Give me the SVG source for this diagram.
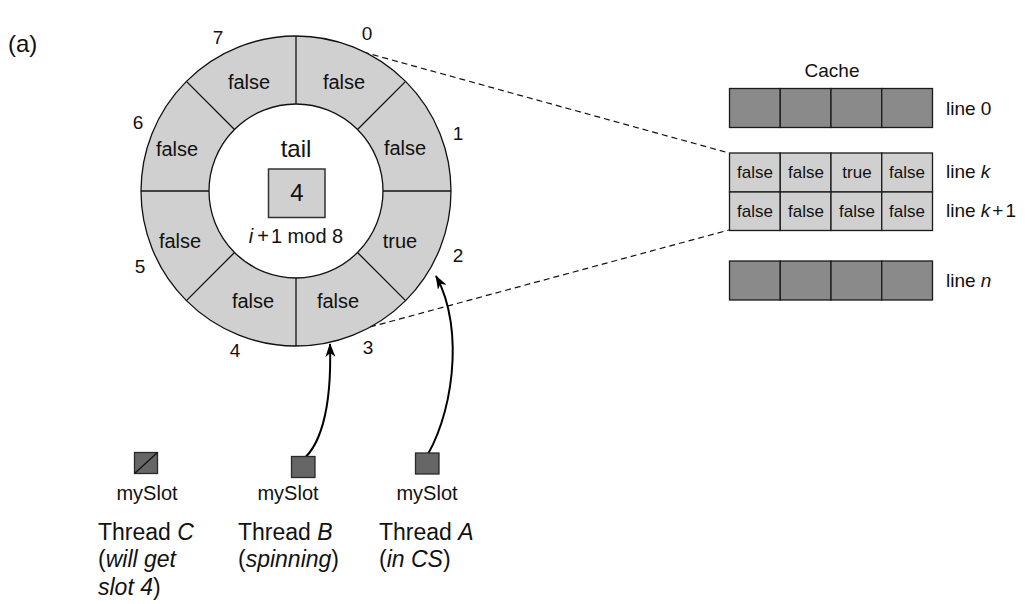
<svg xmlns="http://www.w3.org/2000/svg" width="1031" height="604" viewBox="0 0 1031 604">
<style>
text{font-family:"Liberation Sans",Arial,sans-serif;fill:#111}
.ring{font-size:20px;text-anchor:middle}
.num{font-size:19px;text-anchor:middle}
.cell{font-size:17px;text-anchor:middle}
.lbl{font-size:19px}
.slot{font-size:20px;text-anchor:middle}
.thr{font-size:23px}
.it{font-style:italic}
.div{stroke:#111;stroke-width:1.3}
.dark{fill:#8a8a8a;stroke:#1a1a1a;stroke-width:1.3}
.light{fill:#d0d0d0;stroke:#1a1a1a;stroke-width:1.3}
.tbox{fill:#666;stroke:#2a2a2a;stroke-width:1.3}
.dash{stroke:#111;stroke-width:1.2;stroke-dasharray:6 4;fill:none}
.arr{stroke:#000;stroke-width:2;fill:none;marker-end:url(#ah)}
</style>
<defs>
<marker id="ah" viewBox="0 0 14 10" refX="13" refY="5" markerWidth="14" markerHeight="10" markerUnits="userSpaceOnUse" orient="auto">
<path d="M0,0 L14,5 L0,10 L4,5 Z" fill="#000"/>
</marker>
</defs>
<rect width="1031" height="604" fill="#fff"/>
<text x="8" y="52" style="font-size:24px">(a)</text>

<g id="connectors">
<line class="dash" x1="363" y1="52" x2="729" y2="153"/>
<line class="dash" x1="370" y1="327" x2="729" y2="230"/>
<path class="arr" d="M298,463 C320,450 332,410 330,344"/>
<path class="arr" d="M423,462 C452,420 466,330 436,276"/>
</g>

<g id="ring">
<circle cx="296" cy="191" r="155" fill="#d0d0d0" stroke="#111" stroke-width="1.3"/>
<circle cx="296" cy="191" r="87" fill="#fff" stroke="#111" stroke-width="1.3"/>
<line class="div" x1="296" y1="36" x2="296" y2="104"/>
<line class="div" x1="296" y1="278" x2="296" y2="346"/>
<line class="div" x1="141" y1="191" x2="209" y2="191"/>
<line class="div" x1="383" y1="191" x2="451" y2="191"/>
<line class="div" x1="186.4" y1="81.4" x2="234.5" y2="129.5"/>
<line class="div" x1="405.6" y1="81.4" x2="357.5" y2="129.5"/>
<line class="div" x1="186.4" y1="300.6" x2="234.5" y2="252.5"/>
<line class="div" x1="405.6" y1="300.6" x2="357.5" y2="252.5"/>
<text class="ring" x="249" y="89">false</text>
<text class="ring" x="344" y="89">false</text>
<text class="ring" x="405" y="155">false</text>
<text class="ring" x="400" y="248">true</text>
<text class="ring" x="338" y="308">false</text>
<text class="ring" x="253" y="308">false</text>
<text class="ring" x="180" y="248">false</text>
<text class="ring" x="177" y="156">false</text>
<text class="num" x="367" y="40">0</text>
<text class="num" x="458" y="140">1</text>
<text class="num" x="458" y="262">2</text>
<text class="num" x="368" y="354">3</text>
<text class="num" x="235" y="357">4</text>
<text class="num" x="140" y="273">5</text>
<text class="num" x="138" y="129">6</text>
<text class="num" x="218" y="44">7</text>
</g>

<g id="tail">
<text x="296" y="157" style="font-size:24px;text-anchor:middle">tail</text>
<rect x="268.5" y="169" width="56.5" height="48.5" fill="#d0d0d0" stroke="#333" stroke-width="1.5"/>
<text x="297" y="201" style="font-size:24px;text-anchor:middle">4</text>
<text x="296" y="243" style="font-size:20px;text-anchor:middle"><tspan class="it">i</tspan><tspan dx="4">+</tspan><tspan dx="2">1 mod 8</tspan></text>
</g>

<g id="cache">
<text x="832" y="77" style="font-size:19px;text-anchor:middle">Cache</text>
<g id="line0">
<rect class="dark" x="729.5" y="88.5" width="50.75" height="39"/>
<rect class="dark" x="780.25" y="88.5" width="50.75" height="39"/>
<rect class="dark" x="831" y="88.5" width="50.75" height="39"/>
<rect class="dark" x="881.75" y="88.5" width="50.75" height="39"/>
<text class="lbl" x="946" y="115">line 0</text>
</g>
<g id="linek">
<rect class="light" x="729.5" y="153" width="50.75" height="39"/>
<rect class="light" x="780.25" y="153" width="50.75" height="39"/>
<rect class="light" x="831" y="153" width="50.75" height="39"/>
<rect class="light" x="881.75" y="153" width="50.75" height="39"/>
<text class="cell" x="755" y="178">false</text>
<text class="cell" x="806" y="178">false</text>
<text class="cell" x="857" y="178">true</text>
<text class="cell" x="907" y="178">false</text>
<text class="lbl" x="946" y="178">line <tspan class="it">k</tspan></text>
</g>
<g id="linek1">
<rect class="light" x="729.5" y="192" width="50.75" height="38.5"/>
<rect class="light" x="780.25" y="192" width="50.75" height="38.5"/>
<rect class="light" x="831" y="192" width="50.75" height="38.5"/>
<rect class="light" x="881.75" y="192" width="50.75" height="38.5"/>
<text class="cell" x="755" y="217">false</text>
<text class="cell" x="806" y="217">false</text>
<text class="cell" x="857" y="217">false</text>
<text class="cell" x="907" y="217">false</text>
<text class="lbl" x="946" y="217">line <tspan class="it">k</tspan><tspan dx="2">+</tspan><tspan dx="2">1</tspan></text>
</g>
<g id="linen">
<rect class="dark" x="729.5" y="261" width="50.75" height="39"/>
<rect class="dark" x="780.25" y="261" width="50.75" height="39"/>
<rect class="dark" x="831" y="261" width="50.75" height="39"/>
<rect class="dark" x="881.75" y="261" width="50.75" height="39"/>
<text class="lbl" x="946" y="287">line <tspan class="it">n</tspan></text>
</g>
</g>

<g id="threadC">
<rect class="tbox" x="134.5" y="452.5" width="23" height="21"/>
<line x1="134.5" y1="473.5" x2="157.5" y2="452.5" stroke="#111" stroke-width="1.3"/>
<text class="slot" x="147" y="500">mySlot</text>
<text class="thr" x="98" y="540">Thread <tspan class="it">C</tspan></text>
<text class="thr" x="98" y="567">(<tspan class="it">will get</tspan></text>
<text class="thr" x="98" y="595"><tspan class="it">slot 4</tspan>)</text>
</g>
<g id="threadB">
<rect class="tbox" x="291.5" y="456.5" width="23.5" height="21"/>
<text class="slot" x="288" y="500">mySlot</text>
<text class="thr" x="238" y="540">Thread <tspan class="it">B</tspan></text>
<text class="thr" x="238" y="567">(<tspan class="it">spinning</tspan>)</text>
</g>
<g id="threadA">
<rect class="tbox" x="415.5" y="453" width="23.5" height="21"/>
<text class="slot" x="427" y="500">mySlot</text>
<text class="thr" x="379" y="540">Thread <tspan class="it">A</tspan></text>
<text class="thr" x="379" y="567">(<tspan class="it">in CS</tspan>)</text>
</g>
</svg>
